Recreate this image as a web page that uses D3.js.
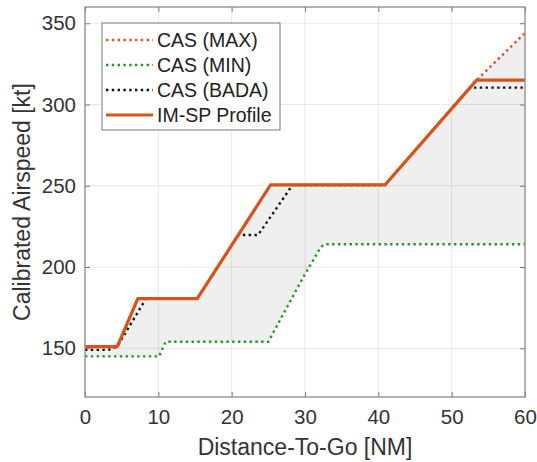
<!DOCTYPE html>
<html><head><meta charset="utf-8">
<script src="https://cdn.jsdelivr.net/npm/d3@7"></script>
<style>body{margin:0;background:#fff}svg{display:block}</style>
</head><body>
<svg id="c" width="537" height="462"></svg>
<script>
const xTicks = [0, 10, 20, 30, 40, 50, 60];
const yTicks = [150, 200, 250, 300, 350];
const seriesNames = ["CAS (MAX)", "CAS (MIN)", "CAS (BADA)", "IM-SP Profile"];

const profileDist = [0, 4.4, 7.2, 15.3, 25.3, 40.9, 53.4, 60];
const profileCas  = [151, 151, 180.5, 180.5, 250.5, 250.5, 315, 315];

const maxDist = [0, 4.4, 7.2, 15.3, 25.3, 40.9, 53.4, 60];
const maxCas  = [151, 151, 180.5, 180.5, 250.5, 250.5, 315, 344];

const minDist = [0, 10.1, 11.0, 25.0, 29.8, 32.2, 32.8, 60];
const minCas  = [145, 145, 154, 154, 194, 212.5, 214, 214];

const badaDist = [0, 3.2, 4.4, 8.3, 15.3, 20.9, 23.6, 28.3, 40.9, 52.5, 60];
const badaCas  = [149, 149, 151, 180.5, 180.5, 219.7, 219.7, 250.5, 250.5, 310.4, 310.4];

const svg = d3.select("#c");
const L = 85, R = 525, T = 7, B = 397;
const x = d3.scaleLinear().domain([0, 60]).range([L, R]);
const y = d3.scaleLinear().domain([120, 360]).range([B, T]);

const pts = (xs, ys) => xs.map((d, i) => [d, ys[i]]);
const line = d3.line().x(d => x(d[0])).y(d => y(d[1]));

const orange = "#d95319", green = "#1e9a1e", black = "#111";
const font = "Liberation Sans, Arial, Helvetica, sans-serif";

svg.append("rect").attr("x", L).attr("y", T).attr("width", R - L).attr("height", B - T).attr("fill", "#fff");

// fill between min and max
const poly = pts(maxDist, maxCas).concat(pts(minDist, minCas).reverse());
svg.append("path").attr("d", line(poly) + "Z").attr("fill", "#efefef").attr("stroke", "none");

// grid
const grid = svg.append("g").attr("stroke", "#000").attr("stroke-opacity", 0.09).attr("stroke-width", 1);
xTicks.slice(1, -1).forEach(t => grid.append("line").attr("x1", x(t)).attr("x2", x(t)).attr("y1", T).attr("y2", B));
yTicks.forEach(t => grid.append("line").attr("x1", L).attr("x2", R).attr("y1", y(t)).attr("y2", y(t)));

// axes (ticks inward)
const ax = svg.append("g").attr("transform", `translate(0,${B})`)
  .call(d3.axisBottom(x).tickValues(xTicks).tickSize(-5).tickPadding(12).tickFormat(d3.format("d")));
const axT = svg.append("g").attr("transform", `translate(0,${T})`)
  .call(d3.axisTop(x).tickValues(xTicks).tickSize(-5).tickFormat(""));
const ay = svg.append("g").attr("transform", `translate(${L},0)`)
  .call(d3.axisLeft(y).tickValues(yTicks).tickSize(-5).tickPadding(9).tickFormat(d3.format("d")));
const ayR = svg.append("g").attr("transform", `translate(${R},0)`)
  .call(d3.axisRight(y).tickValues(yTicks).tickSize(-5).tickFormat(""));
[ax, axT, ay, ayR].forEach(g => {
  g.select(".domain").remove();
  g.selectAll(".tick line").attr("stroke", "#777").attr("stroke-width", 1);
  g.selectAll(".tick text").attr("fill", "#333").attr("font-family", font).attr("font-size", "20.5px");
});

// series
const dot = "2.4 3.4";
svg.append("path").attr("d", line(pts(maxDist, maxCas))).attr("fill", "none")
  .attr("stroke", orange).attr("stroke-width", 2.4).attr("stroke-dasharray", dot);
svg.append("path").attr("d", line(pts(minDist, minCas))).attr("fill", "none")
  .attr("stroke", green).attr("stroke-width", 2.4).attr("stroke-dasharray", dot);
svg.append("path").attr("d", line(pts(badaDist, badaCas))).attr("fill", "none")
  .attr("stroke", black).attr("stroke-width", 2.4).attr("stroke-dasharray", dot);
svg.append("path").attr("d", line(pts(profileDist, profileCas))).attr("fill", "none")
  .attr("stroke", orange).attr("stroke-width", 3.2).attr("stroke-linejoin", "round");

// box
svg.append("rect").attr("x", L).attr("y", T).attr("width", R - L).attr("height", B - T)
  .attr("fill", "none").attr("stroke", "#8a8a8a").attr("stroke-width", 1.3);

// axis labels
svg.append("text").attr("x", (L + R) / 2).attr("y", 455).attr("text-anchor", "middle")
  .attr("font-family", font).attr("font-size", "23px").attr("fill", "#333").text("Distance-To-Go [NM]");
svg.append("text").attr("transform", `translate(30,${(T + B) / 2}) rotate(-90)`).attr("text-anchor", "middle")
  .attr("font-family", font).attr("font-size", "23px").attr("fill", "#333").text("Calibrated Airspeed [kt]");

// legend
const lg = svg.append("g");
lg.append("rect").attr("x", 102).attr("y", 23).attr("width", 178).attr("height", 107)
  .attr("fill", "#fff").attr("stroke", "#777").attr("stroke-width", 1);
const lgStyles = [
  {c: orange, dash: dot, w: 2.4},
  {c: green, dash: dot, w: 2.4},
  {c: black, dash: dot, w: 2.4},
  {c: orange, dash: null, w: 3}
];
seriesNames.forEach((n, i) => {
  const yy = 40 + i * 25;
  const s = lgStyles[i];
  const l = lg.append("line").attr("x1", 106).attr("x2", 153).attr("y1", yy).attr("y2", yy)
    .attr("stroke", s.c).attr("stroke-width", s.w);
  if (s.dash) l.attr("stroke-dasharray", s.dash);
  lg.append("text").attr("x", 157).attr("y", yy).attr("dy", "0.35em")
    .attr("font-family", font).attr("font-size", "19.5px").attr("fill", "#222").text(n);
});
</script>
</body></html>
